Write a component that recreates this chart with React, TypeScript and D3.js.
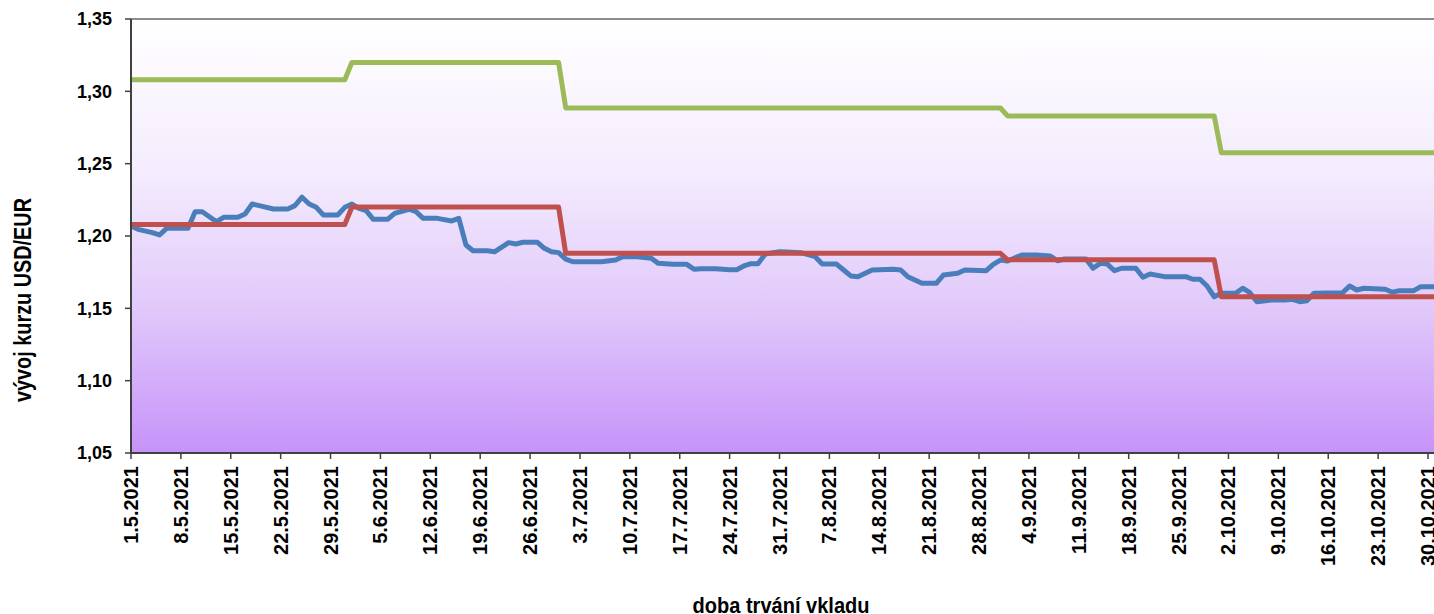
import React, { useEffect, useRef } from 'react'
import * as d3 from 'd3'

// denní kurz USD/EUR
const kurz: [string, number][] = [
  ['2021-05-01', 1.207], ['2021-05-02', 1.2046], ['2021-05-04', 1.2023], ['2021-05-05', 1.2007],
  ['2021-05-06', 1.2053], ['2021-05-09', 1.2053], ['2021-05-10', 1.2168], ['2021-05-11', 1.2168],
  ['2021-05-13', 1.2099], ['2021-05-14', 1.2129], ['2021-05-16', 1.2129], ['2021-05-17', 1.2152],
  ['2021-05-18', 1.2221], ['2021-05-19', 1.221], ['2021-05-21', 1.2187], ['2021-05-23', 1.2187],
  ['2021-05-24', 1.221], ['2021-05-25', 1.2268], ['2021-05-26', 1.2221], ['2021-05-27', 1.2198],
  ['2021-05-28', 1.2145], ['2021-05-30', 1.2145], ['2021-05-31', 1.2198], ['2021-06-01', 1.2221],
  ['2021-06-02', 1.2191], ['2021-06-03', 1.2175], ['2021-06-04', 1.2115], ['2021-06-06', 1.2115],
  ['2021-06-07', 1.2157], ['2021-06-09', 1.2185], ['2021-06-10', 1.2168], ['2021-06-11', 1.2122],
  ['2021-06-13', 1.2122], ['2021-06-15', 1.2104], ['2021-06-16', 1.2122], ['2021-06-17', 1.1938],
  ['2021-06-18', 1.1898], ['2021-06-20', 1.1898], ['2021-06-21', 1.1891], ['2021-06-23', 1.1954],
  ['2021-06-24', 1.1945], ['2021-06-25', 1.1957], ['2021-06-27', 1.1957], ['2021-06-28', 1.1915],
  ['2021-06-29', 1.1891], ['2021-06-30', 1.1885], ['2021-07-01', 1.184], ['2021-07-02', 1.1822],
  ['2021-07-06', 1.1822], ['2021-07-08', 1.1834], ['2021-07-09', 1.1857], ['2021-07-11', 1.1857],
  ['2021-07-13', 1.1846], ['2021-07-14', 1.1811], ['2021-07-16', 1.1804], ['2021-07-18', 1.1804],
  ['2021-07-19', 1.177], ['2021-07-20', 1.1774], ['2021-07-22', 1.1774], ['2021-07-24', 1.1767],
  ['2021-07-25', 1.1767], ['2021-07-26', 1.1793], ['2021-07-27', 1.1809], ['2021-07-28', 1.1809],
  ['2021-07-29', 1.1876], ['2021-07-31', 1.1891], ['2021-08-01', 1.1889], ['2021-08-03', 1.1885],
  ['2021-08-05', 1.1857], ['2021-08-06', 1.1806], ['2021-08-08', 1.1806], ['2021-08-09', 1.1765],
  ['2021-08-10', 1.1724], ['2021-08-11', 1.1719], ['2021-08-13', 1.1765], ['2021-08-16', 1.177],
  ['2021-08-17', 1.1765], ['2021-08-18', 1.1719], ['2021-08-20', 1.1673], ['2021-08-22', 1.1673],
  ['2021-08-23', 1.173], ['2021-08-25', 1.1742], ['2021-08-26', 1.1765], ['2021-08-29', 1.176],
  ['2021-08-30', 1.1804], ['2021-08-31', 1.1834], ['2021-09-01', 1.1827], ['2021-09-03', 1.1869],
  ['2021-09-05', 1.1869], ['2021-09-07', 1.1862], ['2021-09-08', 1.1829], ['2021-09-09', 1.1841],
  ['2021-09-12', 1.1841], ['2021-09-13', 1.1777], ['2021-09-14', 1.1811], ['2021-09-15', 1.1806],
  ['2021-09-16', 1.176], ['2021-09-17', 1.1777], ['2021-09-19', 1.1777], ['2021-09-20', 1.1715],
  ['2021-09-21', 1.1737], ['2021-09-23', 1.1719], ['2021-09-26', 1.1719], ['2021-09-27', 1.1701],
  ['2021-09-28', 1.1701], ['2021-09-29', 1.1654], ['2021-09-30', 1.158], ['2021-10-01', 1.1604],
  ['2021-10-03', 1.1604], ['2021-10-04', 1.1639], ['2021-10-05', 1.1608], ['2021-10-06', 1.1546],
  ['2021-10-08', 1.1558], ['2021-10-10', 1.1558], ['2021-10-11', 1.1562], ['2021-10-12', 1.1546],
  ['2021-10-13', 1.1553], ['2021-10-14', 1.1604], ['2021-10-18', 1.1608], ['2021-10-19', 1.1654],
  ['2021-10-20', 1.1627], ['2021-10-21', 1.1639], ['2021-10-24', 1.1632], ['2021-10-25', 1.1611],
  ['2021-10-26', 1.1622], ['2021-10-28', 1.1622], ['2021-10-29', 1.165], ['2021-10-31', 1.165],
]

// kurz vkladu (červená)
const cervena: [string, number][] = [
  ['2021-05-01', 1.208], ['2021-05-31', 1.208], ['2021-06-01', 1.22], ['2021-06-30', 1.22],
  ['2021-07-01', 1.188], ['2021-08-31', 1.188], ['2021-09-01', 1.1835], ['2021-09-30', 1.1835],
  ['2021-10-01', 1.158], ['2021-10-31', 1.158],
]

// hranice (zelená)
const zelena: [string, number][] = [
  ['2021-05-01', 1.308], ['2021-05-31', 1.308], ['2021-06-01', 1.32], ['2021-06-30', 1.32],
  ['2021-07-01', 1.2885], ['2021-08-31', 1.2885], ['2021-09-01', 1.283], ['2021-09-30', 1.283],
  ['2021-10-01', 1.2575], ['2021-10-31', 1.2575],
]

const yTicks = [1.05, 1.10, 1.15, 1.20, 1.25, 1.30, 1.35]

const xTicks = [
  '1.5.2021', '8.5.2021', '15.5.2021', '22.5.2021', '29.5.2021', '5.6.2021', '12.6.2021',
  '19.6.2021', '26.6.2021', '3.7.2021', '10.7.2021', '17.7.2021', '24.7.2021', '31.7.2021',
  '7.8.2021', '14.8.2021', '21.8.2021', '28.8.2021', '4.9.2021', '11.9.2021', '18.9.2021',
  '25.9.2021', '2.10.2021', '9.10.2021', '16.10.2021', '23.10.2021', '30.10.2021',
]

const W = 1434, H = 614
const left = 131, top = 19, bottom = 453

export default function App() {
  const ref = useRef<SVGSVGElement>(null)

  useEffect(() => {
    const svg = d3.select(ref.current)
    svg.selectAll('*').remove()

    const parse = d3.utcParse('%Y-%m-%d')
    const parseTick = d3.utcParse('%d.%m.%Y')

    const x = d3.scaleUtc()
      .domain([parse('2021-05-01') as Date, parse('2021-10-30') as Date])
      .range([left, 1428])
    const y = d3.scaleLinear().domain([1.05, 1.35]).range([bottom, top])

    const defs = svg.append('defs')
    const grad = defs.append('linearGradient')
      .attr('id', 'bg').attr('x1', 0).attr('y1', 0).attr('x2', 0).attr('y2', 1)
    grad.append('stop').attr('offset', '0%').attr('stop-color', '#ffffff')
    grad.append('stop').attr('offset', '35%').attr('stop-color', '#f4ecfd')
    grad.append('stop').attr('offset', '65%').attr('stop-color', '#e2cbfb')
    grad.append('stop').attr('offset', '100%').attr('stop-color', '#c693f9')

    defs.append('clipPath').attr('id', 'plot')
      .append('rect').attr('x', left).attr('y', top - 3)
      .attr('width', W - left + 10).attr('height', bottom - top + 6)

    svg.append('rect')
      .attr('x', left).attr('y', top)
      .attr('width', W - left + 10).attr('height', bottom - top)
      .attr('fill', 'url(#bg)')

    const line = d3.line<[string, number]>()
      .x(d => x(parse(d[0]) as Date))
      .y(d => y(d[1]))

    const series = [
      { data: kurz, color: '#4a7ebb' },
      { data: cervena, color: '#c0504d' },
      { data: zelena, color: '#9bbb59' },
    ]

    svg.append('g').attr('clip-path', 'url(#plot)')
      .selectAll('path')
      .data(series)
      .enter()
      .append('path')
      .attr('d', s => line(s.data))
      .attr('fill', 'none')
      .attr('stroke', s => s.color)
      .attr('stroke-width', 5)
      .attr('stroke-linejoin', 'round')

    // rámeček a osy
    svg.append('line')
      .attr('x1', left).attr('x2', W).attr('y1', top).attr('y2', top)
      .attr('stroke', '#8c8c8c').attr('stroke-width', 2)
    svg.append('line')
      .attr('x1', left).attr('x2', W).attr('y1', bottom).attr('y2', bottom)
      .attr('stroke', '#404040').attr('stroke-width', 2)
    svg.append('line')
      .attr('x1', left).attr('x2', left).attr('y1', top).attr('y2', bottom + 1)
      .attr('stroke', '#404040').attr('stroke-width', 2)

    const fmt = (v: number) => d3.format('.2f')(v).replace('.', ',')

    const yAxis = svg.append('g')
    yAxis.selectAll('line').data(yTicks).enter().append('line')
      .attr('x1', left - 6).attr('x2', left)
      .attr('y1', d => y(d)).attr('y2', d => y(d))
      .attr('stroke', '#404040').attr('stroke-width', 1.5)
    yAxis.selectAll('text').data(yTicks).enter().append('text')
      .attr('x', 112).attr('y', d => y(d)).attr('dy', '0.35em')
      .attr('text-anchor', 'end')
      .attr('font-family', "'Liberation Sans', Arial, sans-serif")
      .attr('font-weight', 'bold').attr('font-size', 18)
      .attr('fill', '#000')
      .text(d => fmt(d))

    const xAxis = svg.append('g')
    xAxis.selectAll('line').data(xTicks).enter().append('line')
      .attr('x1', d => x(parseTick(d) as Date)).attr('x2', d => x(parseTick(d) as Date))
      .attr('y1', bottom).attr('y2', bottom + 6)
      .attr('stroke', '#404040').attr('stroke-width', 1.5)
    xAxis.selectAll('text').data(xTicks).enter().append('text')
      .attr('transform', d => `translate(${x(parseTick(d) as Date)}, 466) rotate(-90)`)
      .attr('dy', '0.35em')
      .attr('text-anchor', 'end')
      .attr('font-family', "'Liberation Sans', Arial, sans-serif")
      .attr('font-weight', 'bold').attr('font-size', 20)
      .attr('fill', '#000')
      .text(d => d)

    // popisky os - zúžené písmo
    svg.append('text')
      .attr('transform', 'translate(31, 300) rotate(-90)')
      .attr('text-anchor', 'middle')
      .attr('font-family', "'Liberation Sans', Arial, sans-serif")
      .attr('font-weight', 'bold').attr('font-size', 23)
      .attr('textLength', 204).attr('lengthAdjust', 'spacingAndGlyphs')
      .attr('fill', '#000')
      .text('vývoj kurzu USD/EUR')

    svg.append('text')
      .attr('x', 781).attr('y', 613)
      .attr('text-anchor', 'middle')
      .attr('font-family', "'Liberation Sans', Arial, sans-serif")
      .attr('font-weight', 'bold').attr('font-size', 22)
      .attr('textLength', 177).attr('lengthAdjust', 'spacingAndGlyphs')
      .attr('fill', '#000')
      .text('doba trvání vkladu')
  }, [])

  return (
    <div style={{ position: 'absolute', left: 0, top: 0 }}>
      <svg ref={ref} width={W} height={H} style={{ display: 'block', background: '#fff' }} />
    </div>
  )
}
